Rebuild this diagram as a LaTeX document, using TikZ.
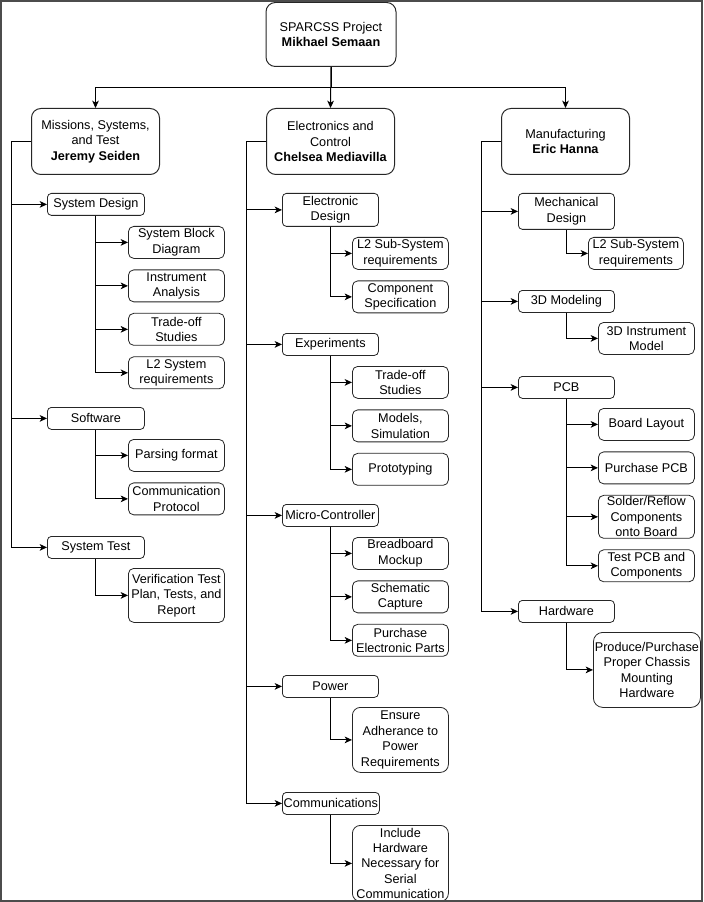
\documentclass[tikz,border=0pt]{standalone}
\usepackage{fontspec}
\setmainfont{Liberation Sans}
\usetikzlibrary{positioning, arrows.meta}

\begin{document}
\begin{tikzpicture}[
        x=0.75pt, y=-0.75pt,
        font=\fontsize{9.5}{11.6}\selectfont,
        chef/.style={
            rectangle,
            rounded corners=7pt,
            draw=black!85,
            fill=white,
            line width=0.75pt,
            minimum width=96pt,
            minimum height=49.5pt,
            align=center,
            anchor=north west,
            inner sep=1pt
        },
        tache/.style={
            rectangle,
            rounded corners=3pt,
            draw=black!85,
            fill=white,
            line width=0.6pt,
            minimum width=72.75pt,
            minimum height=16.5pt,
            align=center,
            anchor=north west,
            inner sep=1pt
        },
        sous/.style={
            tache,
            rounded corners=4pt,
            minimum width=72pt,
            minimum height=24pt
        },
        arrow/.style={
            -{Stealth[length=5.5pt, width=5pt, inset=1.5pt]},
            line width=0.75pt,
            draw=black
        }
    ]

    \useasboundingbox (0,0) rectangle (703,902);

    % Direction du projet
    \node[chef, minimum width=97.5pt, minimum height=48pt] (top) at (265.5,2) {SPARCSS Project\\ \textbf{Mikhael Semaan}};

    % Equipes
    \node[chef] (mst) at (31,108) {Missions, Systems,\\ and Test\\ \textbf{Jeremy Seiden}};
    \node[chef] (ec) at (266,108) {Electronics and\\ Control\\ \textbf{Chelsea Mediavilla}};
    \node[chef] (mf) at (501,108) {Manufacturing\\ \textbf{Eric Hanna}};

    % Missions, Systems, and Test
    \node[tache] (sd) at (47,193) {System Design};
    \node[sous] (sbd) at (128,226) {System Block\\ Diagram};
    \node[sous, below=8pt of sbd] (ia) {Instrument\\ Analysis};
    \node[sous, below=8pt of ia] (tos) {Trade-off\\ Studies};
    \node[sous, below=8pt of tos] (l2s) {L2 System\\ requirements};

    \node[tache] (sw) at (47,407) {Software};
    \node[sous] (pf) at (128,439) {Parsing format};
    \node[sous, below=8pt of pf] (cp) {Communication\\ Protocol};

    \node[tache] (st) at (47,536) {System Test};
    \node[sous, minimum height=40.5pt] (vt) at (128,568) {Verification Test\\ Plan, Tests, and\\ Report};

    % Electronics and Control
    \node[tache, minimum width=72pt, minimum height=24.75pt] (ed) at (282,193) {Electronic\\ Design};
    \node[sous] (l2e) at (352,237) {L2 Sub-System\\ requirements};
    \node[sous, below=8pt of l2e] (cs) {Component\\ Specification};

    \node[tache, minimum width=72pt] (ex) at (282,333) {Experiments};
    \node[sous] (tos2) at (352,366) {Trade-off\\ Studies};
    \node[sous, below=8pt of tos2] (msim) {Models,\\ Simulation};
    \node[sous, below=8pt of msim] (proto) {Prototyping};

    \node[tache, minimum width=72pt] (mc) at (282,504) {Micro-Controller};
    \node[sous] (bm) at (352,537) {Breadboard\\ Mockup};
    \node[sous, below=8pt of bm] (sc) {Schematic\\ Capture};
    \node[sous, below=8pt of sc] (pep) {Purchase\\ Electronic Parts};

    \node[tache, minimum width=72pt] (pw) at (282,675) {Power};
    \node[sous, rounded corners=6pt, minimum height=48.75pt] (ea) at (352,707) {Ensure\\ Adherance to\\ Power\\ Requirements};

    \node[tache, minimum width=72pt] (cm) at (282,792) {Communications};
    \node[sous, rounded corners=6pt, minimum height=57pt] (ih) at (352,825) {Include\\ Hardware\\ Necessary for\\ Serial\\ Communication};

    % Manufacturing
    \node[tache, minimum width=72pt, minimum height=27pt] (md) at (518,193) {Mechanical\\ Design};
    \node[sous, minimum width=71.25pt] (l2m) at (588,237) {L2 Sub-System\\ requirements};

    \node[tache, minimum width=72pt] (m3d) at (518,290) {3D Modeling};
    \node[sous] (im) at (598,322) {3D Instrument\\ Model};

    \node[tache, minimum width=72pt] (pcb) at (518,376) {PCB};
    \node[sous] (bl) at (598,408) {Board Layout};
    \node[sous, below=8pt of bl] (ppcb) {Purchase PCB};
    \node[sous, below=8pt of ppcb, minimum height=32.25pt] (sr) {Solder/Reflow\\ Components\\ onto Board};
    \node[sous, below=8pt of sr] (tp) {Test PCB and\\ Components};

    \node[tache, minimum width=72pt] (hw) at (518,600) {Hardware};
    \node[sous, rounded corners=7pt, minimum width=80.25pt, minimum height=56.25pt] (pp) at (593,632) {Produce/Purchase\\ Proper Chassis\\ Mounting\\ Hardware};

    % Liens direction -> equipes
    \draw[arrow] (top.south) -- ++(0,21) -| (mst.north);
    \draw[arrow] (top.south) -- (ec.north);
    \draw[arrow] (top.south) -- ++(0,21) -| (mf.north);

    % Liens equipes -> taches
    \draw[arrow] (mst.west) -- ++(-20,0) |- (sd.west);
    \draw[arrow] (mst.west) -- ++(-20,0) |- (sw.west);
    \draw[arrow] (mst.west) -- ++(-20,0) |- (st.west);

    \draw[arrow] (ec.west) -- ++(-20,0) |- (ed.west);
    \draw[arrow] (ec.west) -- ++(-20,0) |- (ex.west);
    \draw[arrow] (ec.west) -- ++(-20,0) |- (mc.west);
    \draw[arrow] (ec.west) -- ++(-20,0) |- (pw.west);
    \draw[arrow] (ec.west) -- ++(-20,0) |- (cm.west);

    \draw[arrow] (mf.west) -- ++(-20,0) |- (md.west);
    \draw[arrow] (mf.west) -- ++(-20,0) |- (m3d.west);
    \draw[arrow] (mf.west) -- ++(-20,0) |- (pcb.west);
    \draw[arrow] (mf.west) -- ++(-20,0) |- (hw.west);

    % Liens taches -> sous-taches
    \draw[arrow] (sd.south) |- (sbd.west);
    \draw[arrow] (sd.south) |- (ia.west);
    \draw[arrow] (sd.south) |- (tos.west);
    \draw[arrow] (sd.south) |- (l2s.west);
    \draw[arrow] (sw.south) |- (pf.west);
    \draw[arrow] (sw.south) |- (cp.west);
    \draw[arrow] (st.south) |- (vt.west);

    \draw[arrow] (ed.south) |- (l2e.west);
    \draw[arrow] (ed.south) |- (cs.west);
    \draw[arrow] (ex.south) |- (tos2.west);
    \draw[arrow] (ex.south) |- (msim.west);
    \draw[arrow] (ex.south) |- (proto.west);
    \draw[arrow] (mc.south) |- (bm.west);
    \draw[arrow] (mc.south) |- (sc.west);
    \draw[arrow] (mc.south) |- (pep.west);
    \draw[arrow] (pw.south) |- (ea.west);
    \draw[arrow] (cm.south) |- (ih.west);

    \draw[arrow] (md.south) |- (l2m.west);
    \draw[arrow] (m3d.south) |- (im.west);
    \draw[arrow] (pcb.south) |- (bl.west);
    \draw[arrow] (pcb.south) |- (ppcb.west);
    \draw[arrow] (pcb.south) |- (sr.west);
    \draw[arrow] (pcb.south) |- (tp.west);
    \draw[arrow] (hw.south) |- (pp.west);

    % Cadre
    \draw[black!70, line width=1.5pt] (1,1) rectangle (702,901);

\end{tikzpicture}
\end{document}
